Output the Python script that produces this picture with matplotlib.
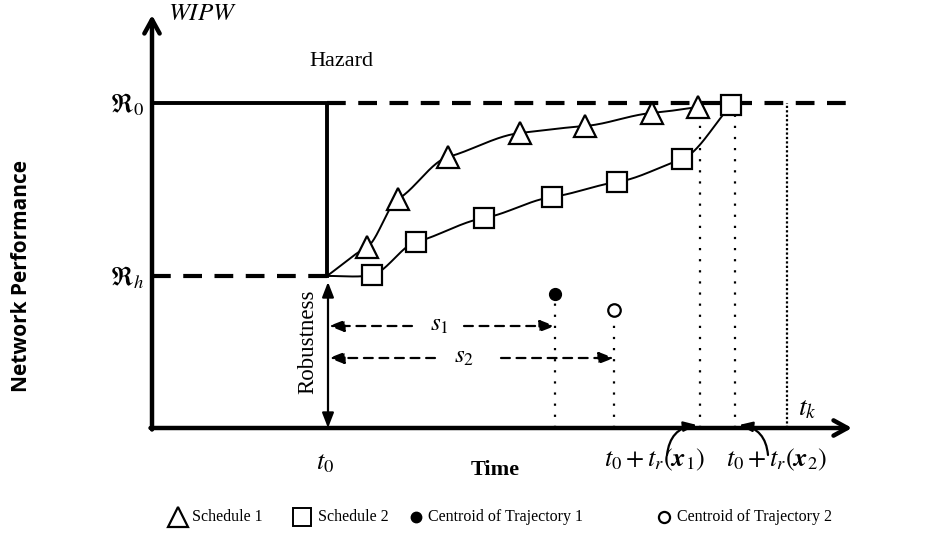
import numpy as np
import matplotlib
matplotlib.use('Agg')
import matplotlib.pyplot as plt

plt.rcParams['mathtext.fontset'] = 'stix'
plt.rcParams['font.family'] = ['Liberation Serif', 'DejaVu Serif']

# ---------------- data (time along x, performance along y) ----------------
R0 = 325          # pre-hazard performance level
Rh = 152          # post-hazard performance level
t0 = 175          # hazard time
t_rec1 = 548      # t0 + t_r(x1)
t_rec2 = 583      # t0 + t_r(x2)
t_k = 635
t_end = 700
perf_top = 413

sched1_t = [215, 246, 296, 368, 433, 500, 546]
sched1_p = [181, 229, 271, 295, 302, 315, 321]
sched2_t = [220, 264, 332, 400, 465, 530, 579]
sched2_p = [153, 186, 210, 231, 246, 269, 323]

centroid1 = (403, 134)
centroid2 = (462, 118)
s1_level, s2_level = 102, 70

legend_labels = ['Schedule 1', 'Schedule 2', 'Centroid of Trajectory 1', 'Centroid of Trajectory 2']
legend_x = [26, 150, 264, 512]
legend_text_x = [40, 166, 276, 525]
legend_y = -89


def smooth(xs, ys, n=40, k=0.5):
    xs = np.asarray(xs, float)
    ys = np.asarray(ys, float)
    m = np.empty_like(ys)
    m[1:-1] = (ys[2:] - ys[:-2]) / (xs[2:] - xs[:-2])
    m[0] = (ys[1] - ys[0]) / (xs[1] - xs[0])
    m[-1] = (ys[-1] - ys[-2]) / (xs[-1] - xs[-2])
    m[1:-1] *= k
    X, Y = [], []
    s = np.linspace(0, 1, n)
    h00 = 2 * s**3 - 3 * s**2 + 1
    h10 = s**3 - 2 * s**2 + s
    h01 = -2 * s**3 + 3 * s**2
    h11 = s**3 - s**2
    for i in range(len(xs) - 1):
        h = xs[i + 1] - xs[i]
        X.append(xs[i] + s * h)
        Y.append(h00 * ys[i] + h10 * h * m[i] + h01 * ys[i + 1] + h11 * h * m[i + 1])
    return np.concatenate(X), np.concatenate(Y)


fig = plt.figure(figsize=(9.51, 5.36), dpi=100)
ax = fig.add_axes([0, 0, 1, 1])
ax.set_xlim(-152, 799)
ax.set_ylim(-108, 428)
ax.axis('off')

# axes with arrows
axis_arrow = dict(arrowstyle='->,head_length=1.0,head_width=0.55', lw=3.2, color='k',
                  shrinkA=0, shrinkB=0)
ax.annotate('', xy=(0, perf_top), xytext=(0, -1.5), arrowprops=axis_arrow)
ax.annotate('', xy=(t_end, 0), xytext=(-1.5, 0), arrowprops=axis_arrow)

# pre-hazard and drop
ax.plot([0, t0, t0], [R0, R0, Rh], color='k', lw=2.8, solid_joinstyle='miter', zorder=2)
ax.plot([t0, 706], [R0, R0], color='k', lw=3, dashes=(4.5, 3), zorder=1)
ax.plot([0, t0], [Rh, Rh], color='k', lw=3, dashes=(4.5, 3), zorder=1)

# recovery curves
x1, y1 = smooth([t0] + sched1_t, [Rh] + sched1_p)
x2, y2 = smooth([t0] + sched2_t, [Rh] + sched2_p)
ax.plot(x1, y1, color='k', lw=1.4, zorder=3)
ax.plot(x2, y2, color='k', lw=1.4, zorder=3)
ax.plot(sched1_t, sched1_p, '^', ms=16, mfc='white', mec='k', mew=1.6, zorder=4)
ax.plot(sched2_t, sched2_p, 's', ms=14.5, mfc='white', mec='k', mew=1.6, zorder=4)

# dotted verticals
ax.plot([t_rec1, t_rec1], [0, sched1_p[-1]], color='k', lw=1.6, ls=(0, (1, 4)), zorder=1)
ax.plot([t_rec2, t_rec2], [0, sched2_p[-1]], color='k', lw=1.6, ls=(0, (1, 4)), zorder=1)
ax.plot([t_k, t_k], [0, R0], color='k', lw=1.6, ls=(0, (1, 1)), zorder=1)
ax.plot([centroid1[0]] * 2, [0, centroid1[1]], color='k', lw=1.6, ls=(0, (1, 4)), zorder=1)
ax.plot([centroid2[0]] * 2, [0, centroid2[1]], color='k', lw=1.6, ls=(0, (1, 4)), zorder=1)

# centroids
ax.plot(*centroid1, 'o', ms=8.5, mfc='k', mec='k', zorder=4)
ax.plot(*centroid2, 'o', ms=9, mfc='white', mec='k', mew=1.6, zorder=4)

# robustness arrow
ax.annotate('', xy=(t0 + 1, 0), xytext=(t0 + 1, Rh - 6),
            arrowprops=dict(arrowstyle='<|-|>,head_length=0.9,head_width=0.35', lw=1.6,
                            color='k', shrinkA=0, shrinkB=0))
ax.text(t0 - 19, 86, 'Robustness', rotation=90, ha='center', va='center', fontsize=16.5)

# s1, s2 dashed arrows
dash_arrow = dict(arrowstyle='-|>,head_length=0.9,head_width=0.35', lw=1.6, color='k',
                  ls=(0, (4, 3)), shrinkA=0, shrinkB=0)
ax.annotate('', xy=(t0 + 2, s1_level), xytext=(260, s1_level), arrowprops=dash_arrow)
ax.annotate('', xy=(centroid1[0], s1_level), xytext=(312, s1_level), arrowprops=dash_arrow)
ax.text(287, s1_level + 1, r'$s_1$', ha='center', va='center', fontsize=18)
ax.annotate('', xy=(t0 + 2, s2_level), xytext=(283, s2_level), arrowprops=dash_arrow)
ax.annotate('', xy=(centroid2[0], s2_level), xytext=(349, s2_level), arrowprops=dash_arrow)
ax.text(312, s2_level + 1, r'$s_2$', ha='center', va='center', fontsize=18)

# curved arrows to recovery times
ax.annotate('', xy=(t_rec1 - 3, 3), xytext=(515, -27),
            arrowprops=dict(arrowstyle='-|>,head_length=0.8,head_width=0.3', lw=1.6, color='k',
                            connectionstyle='arc3,rad=-0.4', shrinkA=0, shrinkB=0))
ax.annotate('', xy=(t_rec2 + 4, 3), xytext=(616, -27),
            arrowprops=dict(arrowstyle='-|>,head_length=0.8,head_width=0.3', lw=1.6, color='k',
                            connectionstyle='arc3,rad=0.4', shrinkA=0, shrinkB=0))

# labels
ax.text(16, 414, r'$WIPW$', ha='left', va='center', fontsize=18)
ax.text(-8, R0 - 2, r'$\Re_0$', ha='right', va='center', fontsize=19)
ax.text(-8, Rh - 2, r'$\Re_h$', ha='right', va='center', fontsize=19)
ax.text(189, 366, 'Hazard', ha='center', va='center', fontsize=16)
ax.text(-130, 152, 'Network Performance', rotation=90, ha='center', va='center',
        fontsize=15, fontweight='bold', family=['Open Sans', 'DejaVu Sans'])
ax.text(t0 - 2, -36, r'$t_0$', ha='center', va='center', fontsize=19)
ax.text(343, -42, 'Time', ha='center', va='center', fontsize=16, fontweight='bold')
ax.text(503, -32, r'$t_0+t_r(\mathbfit{x}_1)$', ha='center', va='center', fontsize=19)
ax.text(625, -32, r'$t_0+t_r(\mathbfit{x}_2)$', ha='center', va='center', fontsize=19)
ax.text(646, 19, r'$t_k$', ha='left', va='center', fontsize=20)

# legend (manual)
ax.plot(legend_x[0], legend_y, '^', ms=15, mfc='white', mec='k', mew=1.6, clip_on=False)
ax.plot(legend_x[1], legend_y, 's', ms=12.5, mfc='white', mec='k', mew=1.4, clip_on=False)
ax.plot(legend_x[2], legend_y, 'o', ms=7.5, mfc='k', mec='k', clip_on=False)
ax.plot(legend_x[3], legend_y, 'o', ms=8, mfc='white', mec='k', mew=1.6, clip_on=False)
for tx, lab in zip(legend_text_x, legend_labels):
    ax.text(tx, legend_y, lab, ha='left', va='center', fontsize=11.5)

fig.savefig('out.png', dpi=100)
